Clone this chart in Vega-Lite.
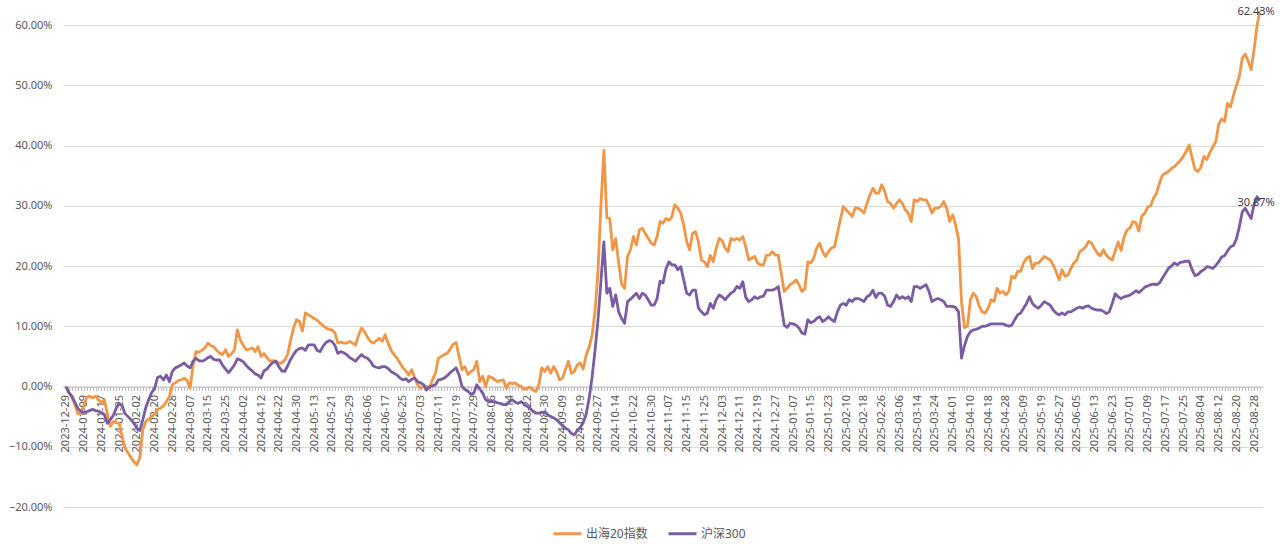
{
  "$schema": "https://vega.github.io/schema/vega-lite/v6.json",
  "description": "出海20指数 vs 沪深300 cumulative return, daily, 2023-12-29 to 2025-09-01",
  "autosize": "none",
  "padding": {"left": 63, "top": 1, "right": 17, "bottom": 37},
  "width": 1200,
  "height": 506,
  "config": {
    "font": "Noto Sans, Noto Sans CJK SC",
    "view": {"stroke": null},
    "axis": {"labelColor": "#595959", "labelFontSize": 11, "title": null}
  },
  "data": {"values": [
    {"date":"2023-12-29","出海20指数":0,"沪深300":0},
    {"date":"2024-01-02","出海20指数":-1.0,"沪深300":-1.0},
    {"date":"2024-01-03","出海20指数":-1.8,"沪深300":-1.6},
    {"date":"2024-01-04","出海20指数":-3.0,"沪深300":-2.6},
    {"date":"2024-01-05","出海20指数":-4.5,"沪深300":-3.6},
    {"date":"2024-01-08","出海20指数":-4.4,"沪深300":-4.1},
    {"date":"2024-01-09","出海20指数":-3.2,"沪深300":-4.3},
    {"date":"2024-01-10","出海20指数":-1.8,"沪深300":-4.2},
    {"date":"2024-01-11","出海20指数":-1.6,"沪深300":-4.0},
    {"date":"2024-01-12","出海20指数":-1.9,"沪深300":-3.8},
    {"date":"2024-01-15","出海20指数":-1.6,"沪深300":-4.0},
    {"date":"2024-01-16","出海20指数":-2.2,"沪深300":-4.1},
    {"date":"2024-01-17","出海20指数":-2.7,"沪深300":-4.3},
    {"date":"2024-01-18","出海20指数":-2.2,"沪深300":-4.7},
    {"date":"2024-01-19","出海20指数":-4.5,"沪深300":-6.1},
    {"date":"2024-01-22","出海20指数":-6.6,"沪深300":-5.5},
    {"date":"2024-01-23","出海20指数":-5.8,"沪深300":-4.8},
    {"date":"2024-01-24","出海20指数":-6.0,"沪深300":-3.6},
    {"date":"2024-01-25","出海20指数":-6.1,"沪深300":-2.8},
    {"date":"2024-01-26","出海20指数":-8.3,"沪深300":-3.2},
    {"date":"2024-01-29","出海20指数":-10.2,"沪深300":-4.5},
    {"date":"2024-01-30","出海20指数":-11.0,"沪深300":-5.0},
    {"date":"2024-01-31","出海20指数":-11.8,"沪深300":-5.5},
    {"date":"2024-02-01","出海20指数":-12.5,"沪深300":-6.1},
    {"date":"2024-02-02","出海20指数":-13.0,"沪深300":-6.9},
    {"date":"2024-02-05","出海20指数":-11.8,"沪深300":-7.3},
    {"date":"2024-02-06","出海20指数":-7.2,"沪深300":-5.5},
    {"date":"2024-02-07","出海20指数":-5.8,"沪深300":-3.5},
    {"date":"2024-02-08","出海20指数":-5.4,"沪深300":-2.2},
    {"date":"2024-02-19","出海20指数":-5.0,"沪深300":-1.0},
    {"date":"2024-02-20","出海20指数":-4.6,"沪深300":-0.3},
    {"date":"2024-02-21","出海20指数":-3.8,"沪深300":1.5},
    {"date":"2024-02-22","出海20指数":-3.6,"沪深300":1.7},
    {"date":"2024-02-23","出海20指数":-3.2,"沪深300":1.1},
    {"date":"2024-02-26","出海20指数":-2.5,"沪深300":1.9},
    {"date":"2024-02-27","出海20指数":-1.7,"沪深300":0.8},
    {"date":"2024-02-28","出海20指数":0.3,"沪深300":2.5},
    {"date":"2024-02-29","出海20指数":0.6,"沪深300":3.1},
    {"date":"2024-03-01","出海20指数":1.0,"沪深300":3.3},
    {"date":"2024-03-04","出海20指数":1.1,"沪深300":3.6},
    {"date":"2024-03-05","出海20指数":1.4,"沪深300":3.9},
    {"date":"2024-03-06","出海20指数":1.0,"沪深300":3.4},
    {"date":"2024-03-07","出海20指数":-0.3,"沪深300":3.1},
    {"date":"2024-03-08","出海20指数":3.5,"沪深300":4.2},
    {"date":"2024-03-11","出海20指数":5.8,"沪深300":4.7},
    {"date":"2024-03-12","出海20指数":5.7,"沪深300":4.3},
    {"date":"2024-03-13","出海20指数":6.0,"沪深300":4.2},
    {"date":"2024-03-14","出海20指数":6.4,"沪深300":4.4},
    {"date":"2024-03-15","出海20指数":7.2,"沪深300":4.8},
    {"date":"2024-03-18","出海20指数":6.8,"沪深300":5.0},
    {"date":"2024-03-19","出海20指数":6.6,"沪深300":4.5},
    {"date":"2024-03-20","出海20指数":6.0,"沪深300":4.4},
    {"date":"2024-03-21","出海20指数":5.5,"沪深300":4.4},
    {"date":"2024-03-22","出海20指数":5.3,"沪深300":3.5},
    {"date":"2024-03-25","出海20指数":6.1,"沪深300":2.9},
    {"date":"2024-03-26","出海20指数":5.0,"沪深300":2.3},
    {"date":"2024-03-27","出海20指数":5.4,"沪深300":2.9},
    {"date":"2024-03-28","出海20指数":6.1,"沪深300":3.6},
    {"date":"2024-03-29","出海20指数":9.4,"沪深300":4.6},
    {"date":"2024-04-01","出海20指数":7.7,"沪深300":4.4},
    {"date":"2024-04-02","出海20指数":6.8,"沪深300":4.1},
    {"date":"2024-04-03","出海20指数":6.1,"沪深300":3.5},
    {"date":"2024-04-08","出海20指数":6.2,"沪深300":3.0},
    {"date":"2024-04-09","出海20指数":6.4,"沪深300":2.6},
    {"date":"2024-04-10","出海20指数":5.8,"沪深300":2.1},
    {"date":"2024-04-11","出海20指数":6.6,"沪深300":1.9},
    {"date":"2024-04-12","出海20指数":5.0,"沪深300":1.4},
    {"date":"2024-04-15","出海20指数":5.5,"沪深300":2.6},
    {"date":"2024-04-16","出海20指数":4.8,"沪深300":2.9},
    {"date":"2024-04-17","出海20指数":4.2,"沪深300":3.5},
    {"date":"2024-04-18","出海20指数":4.3,"沪深300":4.0},
    {"date":"2024-04-19","出海20指数":4.2,"沪深300":4.2},
    {"date":"2024-04-22","出海20指数":3.9,"沪深300":3.3},
    {"date":"2024-04-23","出海20指数":3.9,"沪深300":2.6},
    {"date":"2024-04-24","出海20指数":4.4,"沪深300":2.5},
    {"date":"2024-04-25","出海20指数":5.3,"沪深300":3.4},
    {"date":"2024-04-26","出海20指数":7.7,"沪深300":4.5},
    {"date":"2024-04-29","出海20指数":9.7,"沪深300":5.3},
    {"date":"2024-04-30","出海20指数":11.1,"沪深300":6.0},
    {"date":"2024-05-06","出海20指数":10.8,"沪深300":6.3},
    {"date":"2024-05-07","出海20指数":9.2,"沪深300":6.4},
    {"date":"2024-05-08","出海20指数":12.2,"沪深300":6.0},
    {"date":"2024-05-09","出海20指数":11.9,"沪深300":6.9},
    {"date":"2024-05-10","出海20指数":11.6,"沪深300":6.9},
    {"date":"2024-05-13","出海20指数":11.3,"沪深300":6.9},
    {"date":"2024-05-14","出海20指数":11.0,"沪深300":6.0},
    {"date":"2024-05-15","出海20指数":10.5,"沪深300":5.8},
    {"date":"2024-05-16","出海20指数":10.1,"沪深300":6.7},
    {"date":"2024-05-17","出海20指数":9.7,"沪深300":7.3},
    {"date":"2024-05-20","出海20指数":9.5,"沪深300":7.6},
    {"date":"2024-05-21","出海20指数":9.4,"沪深300":7.5},
    {"date":"2024-05-22","出海20指数":8.9,"沪深300":6.8},
    {"date":"2024-05-23","出海20指数":7.2,"沪深300":5.5},
    {"date":"2024-05-24","出海20指数":7.4,"沪深300":5.8},
    {"date":"2024-05-27","出海20指数":7.2,"沪深300":5.6},
    {"date":"2024-05-28","出海20指数":7.2,"沪深300":5.3},
    {"date":"2024-05-29","出海20指数":7.5,"沪深300":4.8},
    {"date":"2024-05-30","出海20指数":7.2,"沪深300":4.5},
    {"date":"2024-05-31","出海20指数":6.9,"沪深300":4.2},
    {"date":"2024-06-03","出海20指数":8.5,"沪深300":4.8},
    {"date":"2024-06-04","出海20指数":9.7,"沪深300":5.3},
    {"date":"2024-06-05","出海20指数":9.1,"沪深300":4.9},
    {"date":"2024-06-06","出海20指数":8.2,"沪深300":4.7},
    {"date":"2024-06-07","出海20指数":7.5,"沪深300":4.2},
    {"date":"2024-06-11","出海20指数":7.2,"沪深300":3.4},
    {"date":"2024-06-12","出海20指数":7.6,"沪深300":3.2},
    {"date":"2024-06-13","出海20指数":8.0,"沪深300":3.1},
    {"date":"2024-06-14","出海20指数":7.5,"沪深300":3.3},
    {"date":"2024-06-17","出海20指数":8.6,"沪深300":3.3},
    {"date":"2024-06-18","出海20指数":7.2,"沪深300":3.0},
    {"date":"2024-06-19","出海20指数":6.0,"沪深300":2.5},
    {"date":"2024-06-20","出海20指数":5.3,"沪深300":2.2},
    {"date":"2024-06-21","出海20指数":4.7,"沪深300":1.9},
    {"date":"2024-06-24","出海20指数":3.9,"沪深300":1.4},
    {"date":"2024-06-25","出海20指数":3.1,"沪深300":1.1},
    {"date":"2024-06-26","出海20指数":2.6,"沪深300":1.3},
    {"date":"2024-06-27","出海20指数":1.9,"沪深300":0.8},
    {"date":"2024-06-28","出海20指数":2.8,"沪深300":1.2},
    {"date":"2024-07-01","出海20指数":1.4,"沪深300":1.4},
    {"date":"2024-07-02","出海20指数":0.3,"沪深300":0.8},
    {"date":"2024-07-03","出海20指数":-0.3,"沪深300":0.6},
    {"date":"2024-07-04","出海20指数":0.0,"沪深300":0.3},
    {"date":"2024-07-05","出海20指数":0.0,"沪深300":-0.6},
    {"date":"2024-07-08","出海20指数":-0.3,"沪深300":0.0},
    {"date":"2024-07-09","出海20指数":1.1,"沪深300":0.1},
    {"date":"2024-07-10","出海20指数":2.2,"沪深300":0.3},
    {"date":"2024-07-11","出海20指数":4.7,"沪深300":1.1},
    {"date":"2024-07-12","出海20指数":5.0,"沪深300":1.2},
    {"date":"2024-07-15","出海20指数":5.3,"沪深300":1.4},
    {"date":"2024-07-16","出海20指数":5.5,"沪深300":1.8},
    {"date":"2024-07-17","出海20指数":6.2,"沪深300":2.3},
    {"date":"2024-07-18","出海20指数":7.0,"沪深300":2.7},
    {"date":"2024-07-19","出海20指数":7.3,"沪深300":3.1},
    {"date":"2024-07-22","出海20指数":5.0,"沪深300":1.9},
    {"date":"2024-07-23","出海20指数":2.8,"沪深300":0.0},
    {"date":"2024-07-24","出海20指数":3.3,"沪深300":-0.5},
    {"date":"2024-07-25","出海20指数":2.0,"沪深300":-0.8},
    {"date":"2024-07-26","出海20指数":2.5,"沪深300":-1.3},
    {"date":"2024-07-29","出海20指数":2.8,"沪深300":-1.1},
    {"date":"2024-07-30","出海20指数":4.2,"沪深300":0.3},
    {"date":"2024-07-31","出海20指数":0.8,"沪深300":-0.4},
    {"date":"2024-08-01","出海20指数":1.7,"沪深300":-1.1},
    {"date":"2024-08-02","出海20指数":0.0,"沪深300":-2.2},
    {"date":"2024-08-05","出海20指数":1.7,"沪深300":-2.5},
    {"date":"2024-08-06","出海20指数":1.5,"沪深300":-2.5},
    {"date":"2024-08-07","出海20指数":1.2,"沪深300":-2.5},
    {"date":"2024-08-08","出海20指数":0.8,"沪深300":-2.7},
    {"date":"2024-08-09","出海20指数":1.0,"沪深300":-2.8},
    {"date":"2024-08-12","出海20指数":1.1,"沪深300":-3.0},
    {"date":"2024-08-13","出海20指数":-0.3,"沪深300":-3.0},
    {"date":"2024-08-14","出海20指数":0.6,"沪深300":-2.5},
    {"date":"2024-08-15","出海20指数":0.5,"沪深300":-2.2},
    {"date":"2024-08-16","出海20指数":0.6,"沪深300":-2.6},
    {"date":"2024-08-19","出海20指数":0.2,"沪深300":-2.8},
    {"date":"2024-08-20","出海20指数":0.0,"沪深300":-2.5},
    {"date":"2024-08-21","出海20指数":-0.5,"沪深300":-2.9},
    {"date":"2024-08-22","出海20指数":-0.3,"沪深300":-3.3},
    {"date":"2024-08-23","出海20指数":-0.1,"沪深300":-3.6},
    {"date":"2024-08-26","出海20指数":-0.6,"沪深300":-4.1},
    {"date":"2024-08-27","出海20指数":-0.8,"沪深300":-4.4},
    {"date":"2024-08-28","出海20指数":0.3,"沪深300":-4.4},
    {"date":"2024-08-29","出海20指数":3.1,"沪深300":-4.3},
    {"date":"2024-08-30","出海20指数":2.5,"沪深300":-4.2},
    {"date":"2024-09-02","出海20指数":3.3,"沪深300":-4.7},
    {"date":"2024-09-03","出海20指数":2.2,"沪深300":-5.0},
    {"date":"2024-09-04","出海20指数":3.3,"沪深300":-5.2},
    {"date":"2024-09-05","出海20指数":2.5,"沪深300":-5.5},
    {"date":"2024-09-06","出海20指数":1.1,"沪深300":-6.0},
    {"date":"2024-09-09","出海20指数":1.4,"沪深300":-6.5},
    {"date":"2024-09-10","出海20指数":2.8,"沪深300":-6.9},
    {"date":"2024-09-11","出海20指数":4.2,"沪深300":-7.2},
    {"date":"2024-09-12","出海20指数":2.2,"沪深300":-7.8},
    {"date":"2024-09-13","出海20指数":2.5,"沪深300":-8.0},
    {"date":"2024-09-18","出海20指数":3.6,"沪深300":-7.3},
    {"date":"2024-09-19","出海20指数":3.9,"沪深300":-6.8},
    {"date":"2024-09-20","出海20指数":2.9,"沪深300":-6.0},
    {"date":"2024-09-23","出海20指数":5.2,"沪深300":-4.6},
    {"date":"2024-09-24","出海20指数":6.5,"沪深300":-2.0},
    {"date":"2024-09-25","出海20指数":8.5,"沪深300":1.5},
    {"date":"2024-09-26","出海20指数":12.5,"沪深300":6.0},
    {"date":"2024-09-27","出海20指数":19.0,"沪深300":11.0},
    {"date":"2024-09-30","出海20指数":30.0,"沪深300":17.5},
    {"date":"2024-10-08","出海20指数":39.2,"沪深300":24.0},
    {"date":"2024-10-09","出海20指数":28.0,"沪深300":15.5},
    {"date":"2024-10-10","出海20指数":27.9,"沪深300":16.3},
    {"date":"2024-10-11","出海20指数":22.7,"沪深300":13.3},
    {"date":"2024-10-14","出海20指数":24.6,"沪深300":15.2},
    {"date":"2024-10-15","出海20指数":20.5,"沪深300":12.4},
    {"date":"2024-10-16","出海20指数":17.0,"沪深300":11.3},
    {"date":"2024-10-17","出海20指数":16.3,"沪深300":10.5},
    {"date":"2024-10-18","出海20指数":21.6,"沪深300":14.1},
    {"date":"2024-10-21","出海20指数":22.7,"沪深300":14.5},
    {"date":"2024-10-22","出海20指数":24.9,"沪深300":15.0},
    {"date":"2024-10-23","出海20指数":23.5,"沪深300":15.5},
    {"date":"2024-10-24","出海20指数":26.0,"沪深300":14.6},
    {"date":"2024-10-25","出海20指数":26.3,"沪深300":15.5},
    {"date":"2024-10-28","出海20指数":25.4,"沪深300":15.2},
    {"date":"2024-10-29","出海20指数":24.6,"沪深300":14.4},
    {"date":"2024-10-30","出海20指数":23.8,"沪深300":13.5},
    {"date":"2024-10-31","出海20指数":23.5,"沪深300":13.5},
    {"date":"2024-11-01","出海20指数":24.9,"沪深300":14.6},
    {"date":"2024-11-04","出海20指数":27.4,"沪深300":17.5},
    {"date":"2024-11-05","出海20指数":27.1,"沪深300":17.2},
    {"date":"2024-11-06","出海20指数":27.9,"沪深300":19.5},
    {"date":"2024-11-07","出海20指数":27.6,"沪深300":20.7},
    {"date":"2024-11-08","出海20指数":28.2,"沪深300":20.2},
    {"date":"2024-11-11","出海20指数":30.2,"沪深300":20.2},
    {"date":"2024-11-12","出海20指数":29.6,"沪深300":19.4},
    {"date":"2024-11-13","出海20指数":28.8,"沪深300":19.9},
    {"date":"2024-11-14","出海20指数":26.8,"沪深300":17.7},
    {"date":"2024-11-15","出海20指数":24.1,"沪深300":15.5},
    {"date":"2024-11-18","出海20指数":22.7,"沪深300":15.2},
    {"date":"2024-11-19","出海20指数":25.4,"沪深300":16.0},
    {"date":"2024-11-20","出海20指数":25.7,"沪深300":16.0},
    {"date":"2024-11-21","出海20指数":24.0,"沪深300":13.0},
    {"date":"2024-11-22","出海20指数":21.0,"沪深300":12.4},
    {"date":"2024-11-25","出海20指数":20.7,"沪深300":11.9},
    {"date":"2024-11-26","出海20指数":19.9,"沪深300":12.2},
    {"date":"2024-11-27","出海20指数":21.8,"沪深300":13.8},
    {"date":"2024-11-28","出海20指数":20.7,"沪深300":13.0},
    {"date":"2024-11-29","出海20指数":23.0,"沪深300":14.4},
    {"date":"2024-12-02","出海20指数":24.6,"沪深300":15.2},
    {"date":"2024-12-03","出海20指数":24.2,"沪深300":14.9},
    {"date":"2024-12-04","出海20指数":23.0,"沪深300":14.4},
    {"date":"2024-12-05","出海20指数":22.4,"沪深300":15.0},
    {"date":"2024-12-06","出海20指数":24.6,"沪深300":15.5},
    {"date":"2024-12-09","出海20指数":24.3,"沪深300":15.8},
    {"date":"2024-12-10","出海20指数":24.6,"沪深300":16.6},
    {"date":"2024-12-11","出海20指数":24.3,"沪深300":16.3},
    {"date":"2024-12-12","出海20指数":24.9,"沪深300":17.4},
    {"date":"2024-12-13","出海20指数":23.2,"沪深300":14.8},
    {"date":"2024-12-16","出海20指数":21.0,"沪深300":14.1},
    {"date":"2024-12-17","出海20指数":21.3,"沪深300":14.4},
    {"date":"2024-12-18","出海20指数":21.6,"沪深300":14.9},
    {"date":"2024-12-19","出海20指数":20.5,"沪深300":14.6},
    {"date":"2024-12-20","出海20指数":20.2,"沪深300":14.9},
    {"date":"2024-12-23","出海20指数":20.2,"沪深300":15.0},
    {"date":"2024-12-24","出海20指数":21.8,"沪深300":16.0},
    {"date":"2024-12-25","出海20指数":21.8,"沪深300":16.0},
    {"date":"2024-12-26","出海20指数":22.4,"沪深300":16.0},
    {"date":"2024-12-27","出海20指数":21.8,"沪深300":16.2},
    {"date":"2024-12-30","出海20指数":21.8,"沪深300":16.6},
    {"date":"2024-12-31","出海20指数":18.8,"沪深300":13.5},
    {"date":"2025-01-02","出海20指数":15.8,"沪深300":10.2},
    {"date":"2025-01-03","出海20指数":16.3,"沪深300":9.8},
    {"date":"2025-01-06","出海20指数":16.9,"沪深300":10.5},
    {"date":"2025-01-07","出海20指数":17.2,"沪深300":10.4},
    {"date":"2025-01-08","出海20指数":17.7,"沪深300":10.2},
    {"date":"2025-01-09","出海20指数":16.9,"沪深300":9.7},
    {"date":"2025-01-10","出海20指数":15.8,"沪深300":8.9},
    {"date":"2025-01-13","出海20指数":16.2,"沪深300":8.7},
    {"date":"2025-01-14","出海20指数":20.7,"沪深300":11.1},
    {"date":"2025-01-15","出海20指数":20.5,"沪深300":10.6},
    {"date":"2025-01-16","出海20指数":21.3,"沪深300":10.8},
    {"date":"2025-01-17","出海20指数":23.0,"沪深300":11.3},
    {"date":"2025-01-20","出海20指数":23.8,"沪深300":11.6},
    {"date":"2025-01-21","出海20指数":22.4,"沪深300":10.8},
    {"date":"2025-01-22","出海20指数":21.6,"沪深300":11.1},
    {"date":"2025-01-23","出海20指数":22.4,"沪深300":11.6},
    {"date":"2025-01-24","出海20指数":23.0,"沪深300":11.1},
    {"date":"2025-01-27","出海20指数":23.2,"沪深300":10.8},
    {"date":"2025-02-05","出海20指数":25.4,"沪深300":12.4},
    {"date":"2025-02-06","出海20指数":27.7,"沪深300":13.5},
    {"date":"2025-02-07","出海20指数":29.9,"沪深300":13.8},
    {"date":"2025-02-10","出海20指数":29.3,"沪深300":13.5},
    {"date":"2025-02-11","出海20指数":28.8,"沪深300":14.4},
    {"date":"2025-02-12","出海20指数":28.2,"沪深300":14.1},
    {"date":"2025-02-13","出海20指数":29.6,"沪深300":14.6},
    {"date":"2025-02-14","出海20指数":29.6,"沪深300":14.6},
    {"date":"2025-02-17","出海20指数":29.3,"沪深300":14.4},
    {"date":"2025-02-18","出海20指数":28.8,"沪深300":14.1},
    {"date":"2025-02-19","出海20指数":30.4,"沪深300":14.9},
    {"date":"2025-02-20","出海20指数":31.8,"沪深300":15.2},
    {"date":"2025-02-21","出海20指数":32.9,"沪深300":16.0},
    {"date":"2025-02-24","出海20指数":32.1,"沪深300":14.8},
    {"date":"2025-02-25","出海20指数":32.1,"沪深300":15.5},
    {"date":"2025-02-26","出海20指数":33.5,"沪深300":15.5},
    {"date":"2025-02-27","出海20指数":32.4,"沪深300":15.0},
    {"date":"2025-02-28","出海20指数":30.7,"沪深300":13.5},
    {"date":"2025-03-03","出海20指数":30.4,"沪深300":13.3},
    {"date":"2025-03-04","出海20指数":29.6,"沪深300":14.1},
    {"date":"2025-03-05","出海20指数":30.4,"沪深300":15.2},
    {"date":"2025-03-06","出海20指数":31.0,"沪深300":14.6},
    {"date":"2025-03-07","出海20指数":30.4,"沪深300":14.9},
    {"date":"2025-03-10","出海20指数":29.3,"沪深300":14.6},
    {"date":"2025-03-11","出海20指数":28.8,"沪深300":14.9},
    {"date":"2025-03-12","出海20指数":27.4,"沪深300":14.1},
    {"date":"2025-03-13","出海20指数":31.0,"沪深300":16.6},
    {"date":"2025-03-14","出海20指数":30.7,"沪深300":16.6},
    {"date":"2025-03-17","出海20指数":31.2,"沪深300":16.3},
    {"date":"2025-03-18","出海20指数":31.0,"沪深300":16.6},
    {"date":"2025-03-19","出海20指数":31.0,"沪深300":16.9},
    {"date":"2025-03-20","出海20指数":30.1,"沪深300":15.8},
    {"date":"2025-03-21","出海20指数":28.8,"沪深300":14.1},
    {"date":"2025-03-24","出海20指数":29.6,"沪深300":14.4},
    {"date":"2025-03-25","出海20指数":29.6,"沪深300":14.6},
    {"date":"2025-03-26","出海20指数":29.9,"沪深300":14.4},
    {"date":"2025-03-27","出海20指数":30.7,"沪深300":14.1},
    {"date":"2025-03-28","出海20指数":29.6,"沪深300":13.3},
    {"date":"2025-03-31","出海20指数":27.4,"沪深300":13.3},
    {"date":"2025-04-01","出海20指数":28.5,"沪深300":13.3},
    {"date":"2025-04-02","出海20指数":26.8,"沪深300":13.1},
    {"date":"2025-04-03","出海20指数":24.5,"沪深300":12.4},
    {"date":"2025-04-07","出海20指数":14.0,"沪深300":4.7},
    {"date":"2025-04-08","出海20指数":9.8,"沪深300":6.8},
    {"date":"2025-04-09","出海20指数":10.0,"沪深300":8.3},
    {"date":"2025-04-10","出海20指数":14.4,"沪深300":9.1},
    {"date":"2025-04-11","出海20指数":15.5,"沪深300":9.4},
    {"date":"2025-04-14","出海20指数":14.9,"沪深300":9.5},
    {"date":"2025-04-15","出海20指数":13.3,"沪深300":9.7},
    {"date":"2025-04-16","出海20指数":12.4,"沪深300":10.0},
    {"date":"2025-04-17","出海20指数":12.2,"沪深300":10.0},
    {"date":"2025-04-18","出海20指数":13.0,"沪深300":10.2},
    {"date":"2025-04-21","出海20指数":14.4,"沪深300":10.4},
    {"date":"2025-04-22","出海20指数":14.1,"沪深300":10.4},
    {"date":"2025-04-23","出海20指数":16.3,"沪深300":10.4},
    {"date":"2025-04-24","出海20指数":15.5,"沪深300":10.4},
    {"date":"2025-04-25","出海20指数":15.8,"沪深300":10.4},
    {"date":"2025-04-28","出海20指数":15.2,"沪深300":10.2},
    {"date":"2025-04-29","出海20指数":15.8,"沪深300":10.0},
    {"date":"2025-04-30","出海20指数":18.3,"沪深300":10.2},
    {"date":"2025-05-06","出海20指数":18.0,"沪深300":11.1},
    {"date":"2025-05-07","出海20指数":19.1,"沪深300":11.9},
    {"date":"2025-05-08","出海20指数":19.1,"沪深300":12.2},
    {"date":"2025-05-09","出海20指数":20.5,"沪深300":13.0},
    {"date":"2025-05-12","出海20指数":21.3,"沪深300":13.8},
    {"date":"2025-05-13","出海20指数":21.6,"沪深300":14.9},
    {"date":"2025-05-14","出海20指数":19.6,"沪深300":13.8},
    {"date":"2025-05-15","出海20指数":20.5,"沪深300":13.3},
    {"date":"2025-05-16","出海20指数":20.5,"沪深300":13.0},
    {"date":"2025-05-19","出海20指数":21.0,"沪深300":13.5},
    {"date":"2025-05-20","出海20指数":21.6,"沪深300":14.1},
    {"date":"2025-05-21","出海20指数":21.3,"沪深300":13.8},
    {"date":"2025-05-22","出海20指数":21.0,"沪深300":13.5},
    {"date":"2025-05-23","出海20指数":20.2,"沪深300":12.7},
    {"date":"2025-05-26","出海20指数":19.1,"沪深300":12.2},
    {"date":"2025-05-27","出海20指数":17.7,"沪深300":11.9},
    {"date":"2025-05-28","出海20指数":19.4,"沪深300":12.2},
    {"date":"2025-05-29","出海20指数":18.3,"沪深300":11.9},
    {"date":"2025-05-30","出海20指数":18.5,"沪深300":12.4},
    {"date":"2025-06-03","出海20指数":19.6,"沪深300":12.4},
    {"date":"2025-06-04","出海20指数":20.5,"沪深300":12.7},
    {"date":"2025-06-05","出海20指数":21.0,"沪深300":13.0},
    {"date":"2025-06-06","出海20指数":22.4,"沪深300":13.2},
    {"date":"2025-06-09","出海20指数":22.7,"沪深300":13.0},
    {"date":"2025-06-10","出海20指数":23.2,"沪深300":13.3},
    {"date":"2025-06-11","出海20指数":24.1,"沪深300":13.4},
    {"date":"2025-06-12","出海20指数":23.8,"沪深300":13.0},
    {"date":"2025-06-13","出海20指数":22.9,"沪深300":12.8},
    {"date":"2025-06-16","出海20指数":22.1,"沪深300":12.7},
    {"date":"2025-06-17","出海20指数":21.7,"沪深300":12.7},
    {"date":"2025-06-18","出海20指数":22.7,"沪深300":12.5},
    {"date":"2025-06-19","出海20指数":21.8,"沪深300":12.1},
    {"date":"2025-06-20","出海20指数":21.3,"沪深300":12.4},
    {"date":"2025-06-23","出海20指数":21.0,"沪深300":13.8},
    {"date":"2025-06-24","出海20指数":22.5,"沪深300":15.4},
    {"date":"2025-06-25","出海20指数":24.0,"沪深300":14.9},
    {"date":"2025-06-26","出海20指数":22.6,"沪深300":14.6},
    {"date":"2025-06-27","出海20指数":24.8,"沪深300":14.9},
    {"date":"2025-06-30","出海20指数":26.0,"沪深300":15.0},
    {"date":"2025-07-01","出海20指数":26.3,"沪深300":15.2},
    {"date":"2025-07-02","出海20指数":27.4,"沪深300":15.5},
    {"date":"2025-07-03","出海20指数":27.2,"沪深300":15.9},
    {"date":"2025-07-04","出海20指数":25.8,"沪深300":15.6},
    {"date":"2025-07-07","出海20指数":28.3,"沪深300":16.0},
    {"date":"2025-07-08","出海20指数":28.8,"沪深300":16.5},
    {"date":"2025-07-09","出海20指数":29.8,"沪深300":16.7},
    {"date":"2025-07-10","出海20指数":30.0,"沪深300":16.9},
    {"date":"2025-07-11","出海20指数":31.3,"沪深300":17.0},
    {"date":"2025-07-14","出海20指数":32.1,"沪深300":16.9},
    {"date":"2025-07-15","出海20指数":33.8,"沪深300":17.2},
    {"date":"2025-07-16","出海20指数":35.1,"沪深300":18.0},
    {"date":"2025-07-17","出海20指数":35.4,"沪深300":18.8},
    {"date":"2025-07-18","出海20指数":35.7,"沪深300":19.6},
    {"date":"2025-07-21","出海20指数":36.2,"沪深300":20.0},
    {"date":"2025-07-22","出海20指数":36.5,"沪深300":20.5},
    {"date":"2025-07-23","出海20指数":37.0,"沪深300":20.2},
    {"date":"2025-07-24","出海20指数":37.5,"沪深300":20.6},
    {"date":"2025-07-25","出海20指数":38.2,"沪深300":20.7},
    {"date":"2025-07-28","出海20指数":39.0,"沪深300":20.8},
    {"date":"2025-07-29","出海20指数":40.1,"沪深300":20.8},
    {"date":"2025-07-30","出海20指数":38.0,"沪深300":19.4},
    {"date":"2025-07-31","出海20指数":36.0,"沪深300":18.4},
    {"date":"2025-08-01","出海20指数":35.7,"沪深300":18.6},
    {"date":"2025-08-04","出海20指数":36.4,"沪深300":19.1},
    {"date":"2025-08-05","出海20指数":38.2,"沪深300":19.4},
    {"date":"2025-08-06","出海20指数":37.7,"沪深300":19.9},
    {"date":"2025-08-07","出海20指数":38.8,"沪深300":19.8},
    {"date":"2025-08-08","出海20指数":39.8,"沪深300":19.6},
    {"date":"2025-08-11","出海20指数":40.6,"沪深300":20.1},
    {"date":"2025-08-12","出海20指数":43.5,"沪深300":20.7},
    {"date":"2025-08-13","出海20指数":44.4,"沪深300":21.5},
    {"date":"2025-08-14","出海20指数":44.0,"沪深300":21.7},
    {"date":"2025-08-15","出海20指数":47.0,"沪深300":22.5},
    {"date":"2025-08-18","出海20指数":46.4,"沪深300":23.2},
    {"date":"2025-08-19","出海20指数":48.3,"沪深300":23.4},
    {"date":"2025-08-20","出海20指数":50.0,"沪深300":24.5},
    {"date":"2025-08-21","出海20指数":51.5,"沪深300":26.5},
    {"date":"2025-08-22","出海20指数":54.5,"沪深300":29.0},
    {"date":"2025-08-25","出海20指数":55.2,"沪深300":29.6},
    {"date":"2025-08-26","出海20指数":54.0,"沪深300":28.7},
    {"date":"2025-08-27","出海20指数":52.6,"沪深300":27.9},
    {"date":"2025-08-28","出海20指数":56.0,"沪深300":30.3},
    {"date":"2025-08-29","出海20指数":60.0,"沪深300":31.5},
    {"date":"2025-09-01","出海20指数":62.43,"沪深300":30.87}
  ]},
  "transform": [{"fold": ["出海20指数", "沪深300"], "as": ["series", "value"]}],
  "encoding": {
    "x": {
      "field": "date",
      "type": "ordinal",
      "scale": {"type": "point", "padding": 1},
      "axis": {
        "labelAngle": -90,
        "labelOverlap": false,
        "labelExpr": "indexof(['2023-12-29','2024-01-09','2024-01-17','2024-01-25','2024-02-02','2024-02-20','2024-02-28','2024-03-07','2024-03-15','2024-03-25','2024-04-02','2024-04-12','2024-04-22','2024-04-30','2024-05-13','2024-05-21','2024-05-29','2024-06-06','2024-06-17','2024-06-25','2024-07-03','2024-07-11','2024-07-19','2024-07-29','2024-08-06','2024-08-14','2024-08-22','2024-08-30','2024-09-09','2024-09-19','2024-09-27','2024-10-14','2024-10-22','2024-10-30','2024-11-07','2024-11-15','2024-11-25','2024-12-03','2024-12-11','2024-12-19','2024-12-27','2025-01-07','2025-01-15','2025-01-23','2025-02-10','2025-02-18','2025-02-26','2025-03-06','2025-03-14','2025-03-24','2025-04-01','2025-04-10','2025-04-18','2025-04-28','2025-05-09','2025-05-19','2025-05-27','2025-06-05','2025-06-13','2025-06-23','2025-07-01','2025-07-09','2025-07-17','2025-07-25','2025-08-04','2025-08-12','2025-08-20','2025-08-28'], datum.value) >= 0 ? datum.value : ''",
        "offset": -120.5,
        "grid": false,
        "domainColor": "#BFBFBF",
        "tickColor": "#BFBFBF",
        "tickSize": 4,
        "labelPadding": 4
      }
    },
    "y": {
      "field": "value",
      "type": "quantitative",
      "scale": {"domain": [-20, 64], "nice": false, "zero": false},
      "axis": {
        "values": [-20, -10, 0, 10, 20, 30, 40, 50, 60],
        "labelExpr": "format(datum.value, '.2f') + '%'",
        "domain": false,
        "ticks": false,
        "gridColor": "#D9D9D9",
        "labelPadding": 11
      }
    },
    "color": {
      "field": "series",
      "type": "nominal",
      "scale": {"domain": ["出海20指数", "沪深300"], "range": ["#F09646", "#795CA1"]},
      "legend": {
        "title": null,
        "orient": "none",
        "legendX": 489,
        "legendY": 517,
        "direction": "horizontal",
        "symbolType": "stroke",
        "symbolStrokeWidth": 3,
        "symbolSize": 784,
        "labelFontSize": 12,
        "labelColor": "#595959",
        "labelOffset": 3,
        "columnPadding": 14
      }
    }
  },
  "layer": [
    {"mark": {"type": "line", "strokeWidth": 2.8, "strokeJoin": "round"}},
    {
      "transform": [
        {"filter": "datum.date == '2025-09-01'"},
        {"calculate": "format(datum.value, '.2f') + '%'", "as": "label"}
      ],
      "mark": {"type": "text", "fontSize": 11, "dx": -4, "dy": 2},
      "encoding": {"text": {"field": "label"}, "color": {"value": "#404040"}}
    }
  ]
}
